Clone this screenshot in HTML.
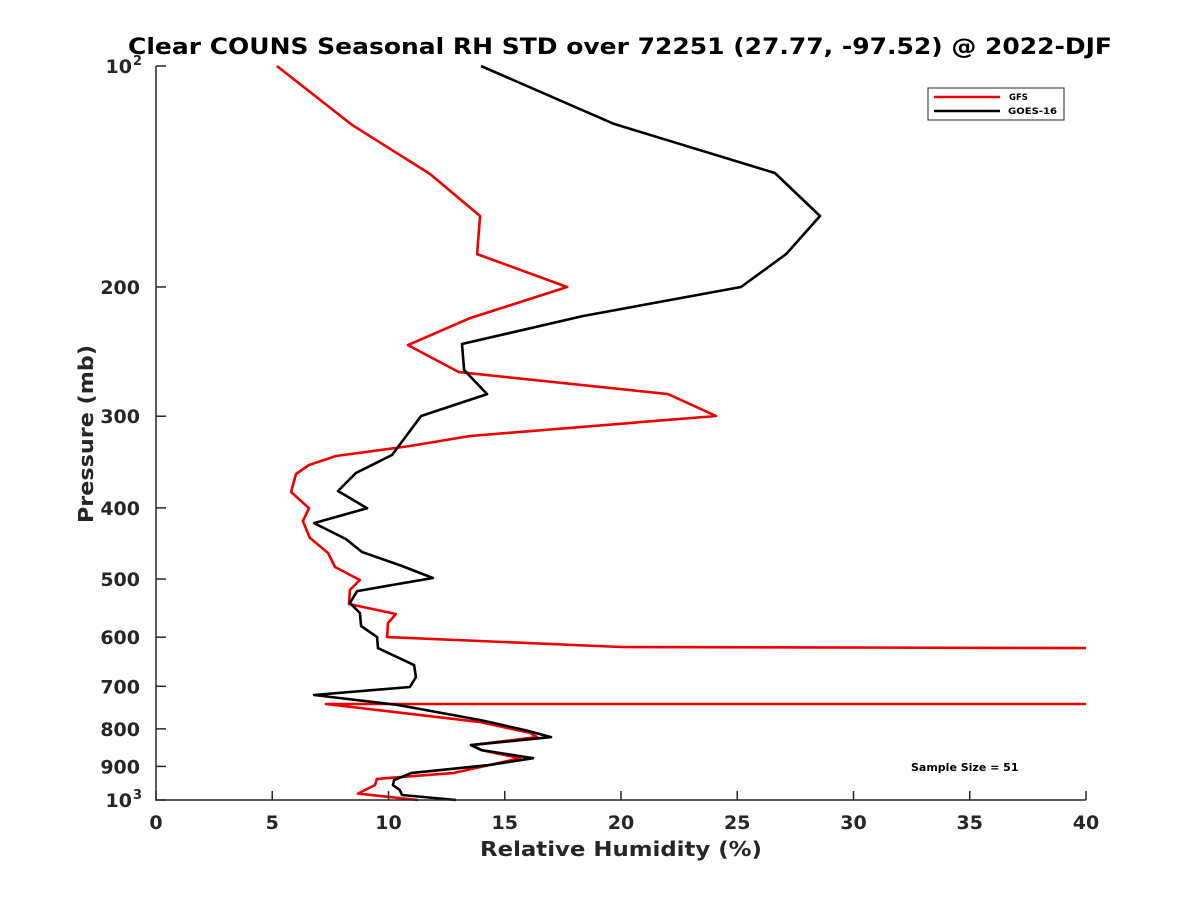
<!DOCTYPE html>
<html><head><meta charset="utf-8"><style>
html,body{margin:0;padding:0;background:#fff;}
svg{display:block;font-family:"DejaVu Sans","Liberation Sans",sans-serif;}
</style></head><body>
<svg id="chart" width="1200" height="900">
<rect width="1200" height="900" fill="#fff"/>
<text x="128" y="54" font-size="22" font-weight="bold" fill="#000" textLength="984" lengthAdjust="spacingAndGlyphs">Clear COUNS Seasonal RH STD over 72251 (27.77, -97.52) @ 2022-DJF</text>
<defs><clipPath id="plotclip"><rect x="156" y="60" width="930" height="745"/></clipPath></defs>
<g id="series" clip-path="url(#plotclip)"></g>
<g id="axes"></g>
<text x="480" y="856" font-size="20" font-weight="bold" fill="#262626" textLength="282" lengthAdjust="spacingAndGlyphs">Relative Humidity (%)</text>
<text transform="translate(93,523) rotate(-90)" font-size="20" font-weight="bold" fill="#262626" textLength="178" lengthAdjust="spacingAndGlyphs">Pressure (mb)</text>
<g>
<rect x="928" y="88" width="136" height="32" fill="#fff" stroke="#262626" stroke-width="1"/>
<line x1="934" y1="97" x2="1000" y2="97" stroke="#e00" stroke-width="2.5"/>
<text x="1009" y="100" font-size="8.5" font-weight="bold">GFS</text>
<line x1="934" y1="111" x2="1000" y2="111" stroke="#000" stroke-width="2.5"/>
<text x="1008" y="114" font-size="8.5" font-weight="bold" textLength="49" lengthAdjust="spacingAndGlyphs">GOES-16</text>
</g>
<text x="911" y="771" font-size="11" font-weight="bold">Sample Size = 51</text>
</svg>
<script>
const xTicks=[0,5,10,15,20,25,30,35,40];
const yTicks=[100,200,300,400,500,600,700,800,900,1000];
const yTickLabels=["10","200","300","400","500","600","700","800","900","10"];
const goesRH=[13.98,19.70,26.62,28.56,27.10,25.16,18.37,13.16,13.25,14.24,11.40,10.15,8.60,7.83,9.08,6.80,8.17,8.86,10.58,11.91,8.65,8.34,8.77,8.82,9.51,9.55,11.10,11.18,10.92,6.80,10.41,13.94,15.87,16.99,13.55,14.00,16.22,14.32,10.97,10.24,10.19,10.49,10.58,12.90];
const goesP=[100,119.9,139.9,160.1,180.4,200,219.1,239.2,259.5,279.9,299.8,338.8,358.5,379.3,400.3,419.5,441.1,459.4,479.9,498.3,519.2,539.0,556.2,579.4,599.8,620.9,654.9,680.0,701.5,719.3,742.3,778.0,803.0,821.0,841.9,855.2,877.0,896.4,919.2,939.5,954.2,969.3,984.4,1000];
const gfsRH=[5.20,8.43,11.78,13.94,13.81,17.68,13.51,10.84,13.03,22.02,24.09,13.51,10.92,7.74,6.58,6.02,5.81,6.58,6.32,6.62,7.40,7.70,8.77,8.34,8.30,10.32,9.98,9.94,20.0,40,60,60,40,7.31,13.94,16.09,16.39,13.55,14.0,15.66,12.77,9.5,9.42,8.69,11.27];
const gfsP=[100,120.3,140.3,160.1,180.4,200,220.5,240.0,261.2,279.9,299.8,319.2,329.4,339.9,349.6,359.6,380.5,400.3,416.9,439.5,460.8,481.5,501.5,517.5,540.8,558.0,574.1,599.8,618.9,620.9,622,740,740,740,783.1,810.3,821,842,855,877,919,936,954,980,1000];
const NS='http://www.w3.org/2000/svg';
const X=v=>156+(v-0)/40*930;
const Y=p=>66+Math.log10(p/100)*734;
function mk(t,a){const e=document.createElementNS(NS,t);for(const k in a)e.setAttribute(k,a[k]);return e;}
const series=document.getElementById('series'),axes=document.getElementById('axes');
function line(rh,p,color,name){
  const pts=rh.map((v,i)=>X(v).toFixed(1)+','+Y(p[i]).toFixed(1)).join(' ');
  const pl=mk('polyline',{points:pts,fill:'none',stroke:color,'stroke-width':2.6,'stroke-linejoin':'round'});
  
  
  series.appendChild(pl);
}
line(gfsRH,gfsP,'#e00','gfs-line');
line(goesRH,goesP,'#000','goes16-line');
const ax=mk('path',{d:'M156,66 V800 H1086',fill:'none',stroke:'#262626','stroke-width':1.5});


axes.appendChild(ax);
xTicks.forEach(v=>{
  const x=X(v);
  axes.appendChild(mk('line',{x1:x,y1:800,x2:x,y2:791,stroke:'#262626','stroke-width':1.5}));
  const t=mk('text',{x:x,y:829,'text-anchor':'middle','font-size':19,'font-weight':'bold',fill:'#262626'});
  t.textContent=v;
  
  
  axes.appendChild(t);
});
yTicks.forEach((p,i)=>{
  const y=Y(p);
  axes.appendChild(mk('line',{x1:156,y1:y,x2:166,y2:y,stroke:'#262626','stroke-width':1.5}));
  const sup=(p===100||p===1000);
  const t=mk('text',{x:sup?132:140,y:y+7,'text-anchor':'end','font-size':19,'font-weight':'bold',fill:'#262626'});
  t.textContent=yTickLabels[i];
  
  
  axes.appendChild(t);
  if(sup){
    const s=mk('text',{x:133,y:y-1,'font-size':13,'font-weight':'bold',fill:'#262626'});
    s.textContent=(p===100?'2':'3');
    
    
    axes.appendChild(s);
  }
});
</script>
</body></html>
